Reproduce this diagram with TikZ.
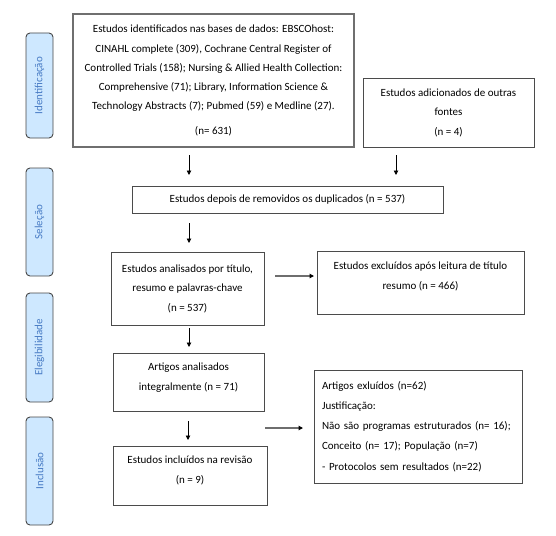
\documentclass[tikz,border=0pt]{standalone}
\usepackage{fontspec}
\setmainfont{Carlito}
\usetikzlibrary{arrows.meta}
\definecolor{sidefill}{RGB}{206,232,255}
\definecolor{sidedraw}{RGB}{70,70,70}
\definecolor{sidetext}{RGB}{70,122,196}
\definecolor{boxline}{RGB}{75,75,75}
\definecolor{hline}{RGB}{110,110,110}
\begin{document}
\begin{tikzpicture}[x=1pt,y=-1pt,
  mainbox/.style={draw=boxline, line width=1pt, align=center, inner sep=0pt,
    font=\fontsize{11}{19.5}\selectfont},
  sidebox/.style={draw=sidedraw, fill=sidefill, rounded corners=4pt, line width=0.9pt,
    rotate=90, minimum height=27pt, inner sep=0pt, text=sidetext,
    font=\fontsize{11}{13}\selectfont},
  varrow/.style={draw=black, line width=0.9pt, -{Triangle[width=4.5pt,length=4.5pt]}},
  harrow/.style={draw=hline, line width=1.4pt, -{Triangle[width=4.5pt,length=4.5pt,color=black,fill=black]}}
]
\useasboundingbox (0,0) rectangle (556,535);

% side labels
\node[sidebox, minimum width=105pt] (sid) at (39.5,85.5) {Identificação};
\node[sidebox, minimum width=108pt] (ssel) at (39.5,222) {Seleção};
\node[sidebox, minimum width=109pt] (seleg) at (39.5,347.5) {Elegibilidade};
\node[sidebox, minimum width=108pt] (sinc) at (39.5,471) {Inclusão};

% main boxes
\node[mainbox, minimum width=281pt, minimum height=133pt, draw=boxline!80, line width=1.4pt,
  font=\fontsize{11}{19.2}\selectfont] (b1) at (213.5,80.5)
  {Estudos identificados nas bases de dados: EBSCOhost:\\
   CINAHL complete (309), Cochrane Central Register of\\
   Controlled Trials (158); Nursing \& Allied Health Collection:\\
   Comprehensive (71); Library, Information Science \&\\
   Technology Abstracts (7); Pubmed (59) e Medline (27).\\[5.5pt]
   (n= 631)};
\node[mainbox, minimum width=171pt, minimum height=69pt] (b2) at (448.5,112.5)
  {Estudos adicionados de outras\\ fontes\\ (n = 4)};
\node[mainbox, minimum width=311pt, minimum height=27pt] (b3) at (287.5,199.5)
  {Estudos depois de removidos os duplicados (n = 537)};
\node[mainbox, minimum width=153pt, minimum height=73pt] (b4) at (187.5,288.5)
  {Estudos analisados por título,\\ resumo e palavras-chave\\ (n = 537)};
\node[mainbox, minimum width=207pt, minimum height=63pt, text depth=14pt] (b5) at (420.5,282.5)
  {Estudos excluídos após leitura de título\\ resumo (n = 466)};
\node[mainbox, minimum width=151pt, minimum height=58pt, text depth=11pt] (b6) at (188.5,382)
  {Artigos analisados\\ integralmente (n = 71)};
\node[mainbox, minimum width=154pt, minimum height=59pt, text depth=12pt] (b7) at (190,475.5)
  {Estudos incluídos na revisão\\ (n = 9)};
\node[mainbox, align=left, text width=192pt, inner xsep=8pt, minimum height=113pt,
  font=\fontsize{11}{20.2}\selectfont] (b8) at (418,426.5)
  {Artigos exluídos (n=62)\\
   Justificação:\\
   Não são programas estruturados (n= 16);\\
   Conceito (n= 17); População (n=7)\\
   - Protocolos sem resultados (n=22)};

% connector end points
\coordinate (a1s) at (189,155); \coordinate (a1e) at (189,175);
\coordinate (a2s) at (396,155); \coordinate (a2e) at (396,175);
\coordinate (a3s) at (189,223); \coordinate (a3e) at (189,243);
\coordinate (a4s) at (275,276); \coordinate (a4e) at (314,276);
\coordinate (a5s) at (189,328); \coordinate (a5e) at (189,347);
\coordinate (a6s) at (188,421); \coordinate (a6e) at (188,440);
\coordinate (a7s) at (265,428); \coordinate (a7e) at (303,428);

\draw[varrow] (a1s) -- (a1e);
\draw[varrow] (a2s) -- (a2e);
\draw[varrow] (a3s) -- (a3e);
\draw[harrow] (a4s) -- (a4e);
\draw[varrow] (a5s) -- (a5e);
\draw[varrow] (a6s) -- (a6e);
\draw[harrow] (a7s) -- (a7e);
\end{tikzpicture}
\end{document}
